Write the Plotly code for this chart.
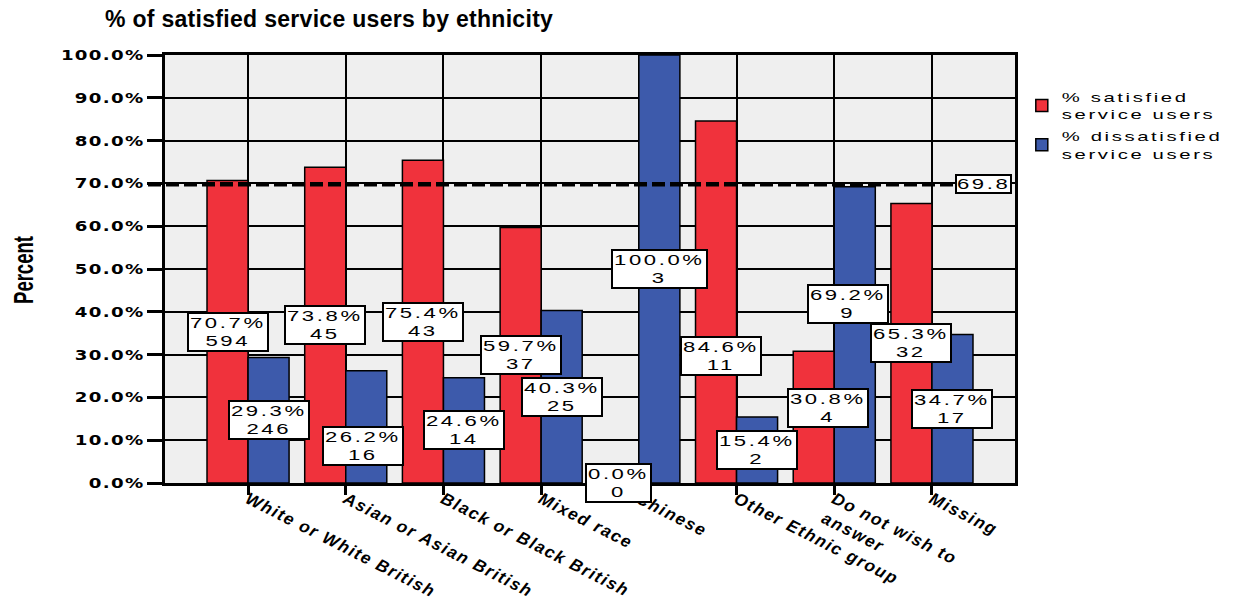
import plotly.graph_objects as go

# Satisfaction survey results by ethnic group
categories = [
    "White or White British",
    "Asian or Asian British",
    "Black or Black British",
    "Mixed race",
    "Chinese",
    "Other Ethnic group",
    "Do not wish to<br>answer",
    "Missing",
]
pct_satisfied = [70.7, 73.8, 75.4, 59.7, 0.0, 84.6, 30.8, 65.3]
pct_dissatisfied = [29.3, 26.2, 24.6, 40.3, 100.0, 15.4, 69.2, 34.7]
n_satisfied = [594, 45, 43, 37, 0, 11, 4, 32]
n_dissatisfied = [246, 16, 14, 25, 3, 2, 9, 17]
overall_satisfied = 69.8
y_ticks = list(range(0, 101, 10))

RED = "#F0323C"
BLUE = "#3D5AAB"
SANS = "Liberation Sans, Arial"
positions = list(range(len(categories)))
BAR_W = 0.42

# pixel nudges (dx, dy) for value labels that would otherwise collide
LABEL_NUDGE = {
    (1, "dis"): (-3, -19),
    (5, "sat"): (5, -54),
    (6, "sat"): (14, 9),
    (6, "dis"): (-7, 31),
}

fig = go.Figure()
fig.add_trace(go.Bar(
    x=positions, y=pct_satisfied, name="% satisfied<br>service users",
    marker=dict(color=RED, line=dict(color="black", width=1.5)),
    offset=-BAR_W, width=BAR_W,
))
fig.add_trace(go.Bar(
    x=positions, y=pct_dissatisfied, name="% dissatisfied<br>service users",
    marker=dict(color=BLUE, line=dict(color="black", width=1.5)),
    offset=0, width=BAR_W,
))

box_font = dict(family=SANS, size=17, color="black")
annotations = []
for i in positions:
    for key, val, n, dx in (("sat", pct_satisfied[i], n_satisfied[i], -BAR_W / 2),
                            ("dis", pct_dissatisfied[i], n_dissatisfied[i], BAR_W / 2)):
        nx, ny = LABEL_NUDGE.get((i, key), (0, 0))
        annotations.append(dict(
            x=i + dx, y=val / 2, xref="x", yref="y", xshift=nx, yshift=ny,
            text=f"{val:.1f}%<br>{n}", showarrow=False,
            font=box_font, bgcolor="white", bordercolor="black",
            borderwidth=2, borderpad=1, align="center",
        ))

# label for the overall-average line
annotations.append(dict(
    x=0.997, y=overall_satisfied, xref="paper", yref="y", xanchor="right",
    text=f"{overall_satisfied}", showarrow=False, font=box_font,
    bgcolor="white", bordercolor="black", borderwidth=2, borderpad=0,
))
# y axis title
annotations.append(dict(
    x=-0.184, y=0.497, xref="paper", yref="paper", text="<b>Percent</b>",
    textangle=-90, showarrow=False,
    font=dict(family=SANS, size=28, color="black"),
))

fig.update_layout(
    width=1244, height=603,
    margin=dict(l=165, r=229, t=55, b=120, autoexpand=False),
    paper_bgcolor="white", plot_bgcolor="#EFEFEF",
    showlegend=True,
    legend=dict(x=1.008, y=0.94, xanchor="left", yanchor="top",
                font=dict(family=SANS, size=14, color="black"),
                bgcolor="rgba(0,0,0,0)", tracegroupgap=0),
    title=dict(text="<b>% of satisfied service users by ethnicity</b>",
               x=105 / 1244, xanchor="left", xref="container", yref="container",
               y=1 - 19 / 603, yanchor="middle",
               font=dict(family=SANS, size=23, color="black")),
    annotations=annotations,
    shapes=[dict(type="line", xref="paper", yref="y", x0=-0.02, x1=0.935,
                 y0=overall_satisfied, y1=overall_satisfied,
                 line=dict(color="black", width=4.5, dash="13px,5px"))],
)

fig.update_xaxes(
    range=[-0.85, len(categories) - 0.15], tickmode="array",
    tickvals=positions, ticktext=categories, tickangle=27,
    ticks="outside", ticklen=9, tickwidth=2.5, tickcolor="black",
    ticklabelstandoff=-12,
    showgrid=True, gridcolor="black", gridwidth=1.5,
    showline=True, linecolor="black", linewidth=2.5, mirror=True,
    zeroline=False, automargin=False,
    tickfont=dict(family=SANS, size=17, color="black", weight="bold", style="italic"),
)
fig.update_yaxes(
    range=[0, 100], tickmode="array", tickvals=y_ticks,
    ticktext=[f"{v:.1f}%" for v in y_ticks],
    ticks="outside", ticklen=15, tickwidth=2.5, tickcolor="black",
    showgrid=True, gridcolor="black", gridwidth=1.5,
    showline=True, linecolor="black", linewidth=2.5, mirror=True,
    zeroline=False, automargin=False,
    tickfont=dict(family="DejaVu Sans", size=14, color="black", weight="bold"),
)

# Extended lettering for value labels, legend and tick labels. Fonts are
# re-applied afterwards so Plotly re-measures the text with the styling.
lettering_js = """
var gd = document.getElementById('{plot_id}');
var css = document.createElement('style');
css.textContent =
  '.annotation-text{transform-box:fill-box;transform-origin:center;scale:1.3 0.82;letter-spacing:2px}' +
  '.legendtext{transform-box:fill-box;transform-origin:left center;scale:1.45 0.95;letter-spacing:1.8px}' +
  '.ytick text{transform-box:fill-box;transform-origin:right center;scale:1.3 1;letter-spacing:1px}' +
  '.xtick text{letter-spacing:1.5px}' +
  '.gtitle{letter-spacing:0.3px}';
document.head.appendChild(css);
var upd = {};
gd.layout.annotations.forEach(function(a, i) {
  upd['annotations[' + i + '].font.family'] = a.font.family + ', sans-serif';
});
upd['legend.font.family'] = gd.layout.legend.font.family + ', sans-serif';
Plotly.relayout(gd, upd).then(function() {
  var txt = gd.querySelectorAll('.annotation-text');
  var axisTitle = txt[txt.length - 1];
  axisTitle.style.letterSpacing = '0px';
  axisTitle.style.scale = '0.66 1';
});
"""

fig.write_html("out.html", post_script=lettering_js)
